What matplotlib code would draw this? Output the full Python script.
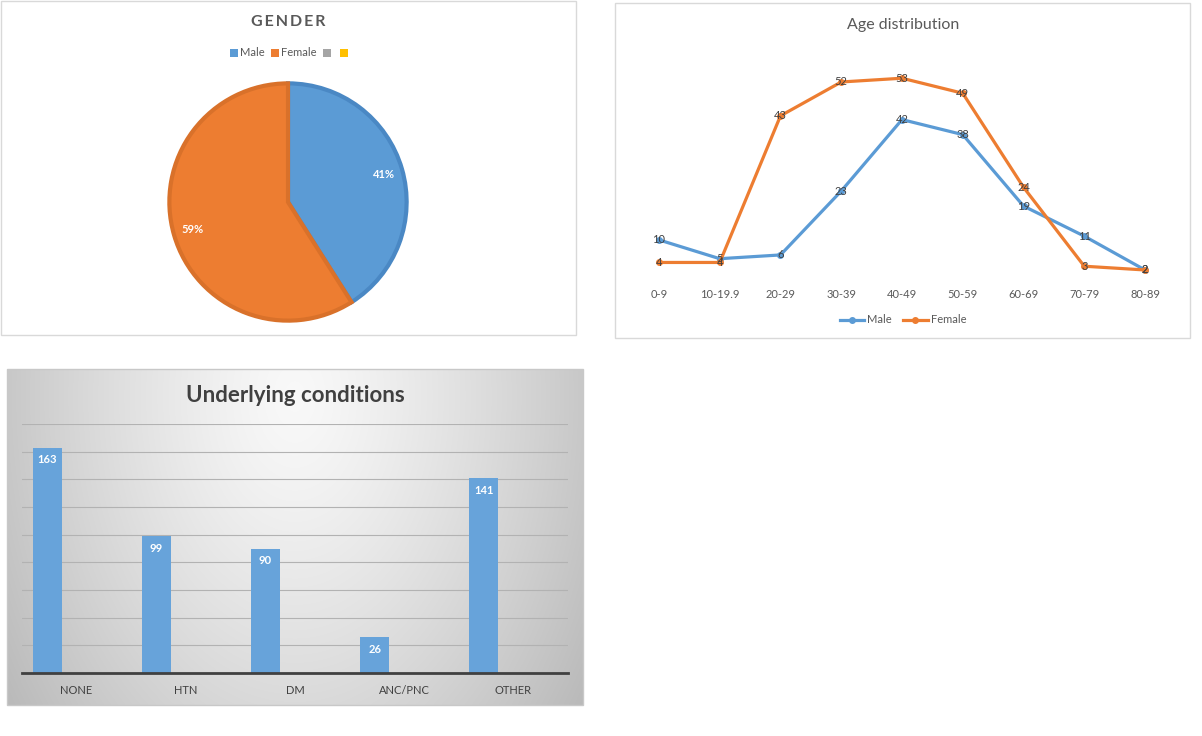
import numpy as np
import matplotlib.pyplot as plt
from matplotlib.patches import Rectangle, Patch
from matplotlib.lines import Line2D

plt.rcParams['font.family'] = ['Lato', 'DejaVu Sans']

# Data
gender_labels = ['Male', 'Female', '', '']
gender_share = [41, 59, 0, 0]
gender_colors = ['#5b9bd5', '#ed7d31', '#a5a5a5', '#ffc000']
gender_edges = ['#4a88c4', '#d9712a']

age_groups = ['0-9', '10-19.9', '20-29', '30-39', '40-49', '50-59', '60-69', '70-79', '80-89']
male_age = [10, 5, 6, 23, 42, 38, 19, 11, 2]
female_age = [4, 4, 43, 52, 53, 49, 24, 3, 2]

conditions = ['NONE', 'HTN', 'DM', 'ANC/PNC', 'OTHER']
condition_counts = [163, 99, 90, 26, 141]

W, H = 1202, 736
fig = plt.figure(figsize=(W / 100, H / 100), dpi=100)
fig.patch.set_facecolor('white')


def box(x0, y0, x1, y1):
    # pixel box (top-left origin) -> figure fraction rect
    return [x0 / W, 1 - y1 / H, (x1 - x0) / W, (y1 - y0) / H]


def border(x0, y0, x1, y1, color='#d9d9d9'):
    r = box(x0, y0, x1, y1)
    fig.add_artist(Rectangle((r[0], r[1]), r[2], r[3], transform=fig.transFigure,
                             fill=False, edgecolor=color, linewidth=1))


def fx(x):
    return x / W


def fy(y):
    return 1 - y / H


# ---------------- Pie chart ----------------
border(0.5, 0.5, 576, 335)
fig.text(fx(288), fy(22), 'G E N D E R'.replace(' ', '\u2009'), ha='center', va='center',
         fontsize=11.5, fontweight='bold', color='#595959')

ax1 = fig.add_axes(box(167, 81, 409, 323))
wedges, _, autotexts = ax1.pie(gender_share[:2], colors=gender_colors[:2], startangle=90,
                               counterclock=False, autopct='%.0f%%', pctdistance=0.84,
                               radius=1.0,
                               wedgeprops=dict(linewidth=3),
                               textprops=dict(color='white', fontsize=8, fontweight='bold'))
for w, ec in zip(wedges, gender_edges):
    w.set_edgecolor(ec)
ax1.set_aspect('equal')
ax1.set_xlim(-1.02, 1.02)
ax1.set_ylim(-1.02, 1.02)

handles = [Patch(facecolor=c, edgecolor='none') for c in gender_colors]
fig.legend(handles, gender_labels, loc='center', bbox_to_anchor=(fx(290), fy(53)),
           ncol=4, frameon=False, fontsize=8, handlelength=0.7, handleheight=0.7,
           handletextpad=0.2, columnspacing=0.6, labelcolor='#595959')

# ---------------- Line chart ----------------
border(615, 3, 1190, 338)
fig.text(fx(903), fy(25), 'Age distribution', ha='center', va='center', fontsize=11.5,
         color='#595959')

ax2 = fig.add_axes(box(628.6, 51.9, 1175.4, 277.5))
x = np.arange(len(age_groups))
ax2.plot(x, male_age, color='#5b9bd5', linewidth=2.3, marker='o', markersize=4, label='Male')
ax2.plot(x, female_age, color='#ed7d31', linewidth=2.3, marker='o', markersize=4, label='Female')
for xi, v in zip(x, male_age):
    ax2.text(xi, v, str(v), ha='center', va='center', fontsize=8, color='#404040')
for xi, v in zip(x, female_age):
    ax2.text(xi, v, str(v), ha='center', va='center', fontsize=8, color='#404040')
ax2.set_xlim(-0.5, len(age_groups) - 0.5)
ax2.set_ylim(0, 60)
ax2.set_xticks(x)
ax2.set_xticklabels(age_groups, fontsize=8, color='#595959')
ax2.set_yticks([])
ax2.tick_params(axis='x', length=0, pad=8)
for s in ax2.spines.values():
    s.set_visible(False)
ax2.patch.set_alpha(0)

lh = [Line2D([0], [0], color='#5b9bd5', lw=2.3, marker='o', markersize=4),
      Line2D([0], [0], color='#ed7d31', lw=2.3, marker='o', markersize=4)]
fig.legend(lh, ['Male', 'Female'], loc='center', bbox_to_anchor=(fx(903), fy(320)),
           ncol=2, frameon=False, fontsize=8, handlelength=2.2, handletextpad=0.3,
           columnspacing=1.0, labelcolor='#595959')

# ---------------- Bar chart ----------------
bg = fig.add_axes(box(7, 369, 583, 705))
gx, gy = np.meshgrid(np.linspace(0, 1, 300), np.linspace(0, 1, 200))
d = np.sqrt(((gx - 0.5) / 0.5) ** 2 + ((gy - 0.08) / 1.3) ** 2)
shade = np.clip(0.975 - 0.19 * d ** 1.3, 0, 1)
bg.imshow(np.dstack([shade] * 3), aspect='auto', extent=(0, 1, 1, 0), interpolation='bilinear')
bg.set_axis_off()
border(7, 369, 583, 705, color='#c8c8c8')

fig.text(fx(295), fy(395), 'Underlying conditions', ha='center', va='center', fontsize=16,
         fontweight='bold', color='#404040')

ax3 = fig.add_axes(box(22, 424, 568, 673))
ax3.patch.set_alpha(0)
xc = np.arange(len(conditions))
bars = ax3.bar(xc - 0.27, condition_counts, width=0.266, color='#67a3da', zorder=3)
for b, v in zip(bars, condition_counts):
    ax3.text(b.get_x() + b.get_width() / 2, v - 9, str(v), ha='center', va='center',
             fontsize=8, fontweight='bold', color='white', zorder=4)
ax3.set_xlim(-0.5, len(conditions) - 0.5)
ax3.set_ylim(0, 180)
ax3.set_yticks(np.arange(0, 181, 20))
ax3.set_yticklabels([])
ax3.tick_params(axis='y', length=0)
ax3.grid(axis='y', color='#b2b2b2', linewidth=0.8, zorder=0)
ax3.set_xticks(xc)
ax3.set_xticklabels(conditions, fontsize=8, color='#404040')
ax3.tick_params(axis='x', length=0, pad=9)
for s in ['top', 'left', 'right']:
    ax3.spines[s].set_visible(False)
ax3.spines['bottom'].set_color('#404040')
ax3.spines['bottom'].set_linewidth(2)
ax3.spines['bottom'].set_zorder(5)

fig.savefig('out.png', dpi=100)
